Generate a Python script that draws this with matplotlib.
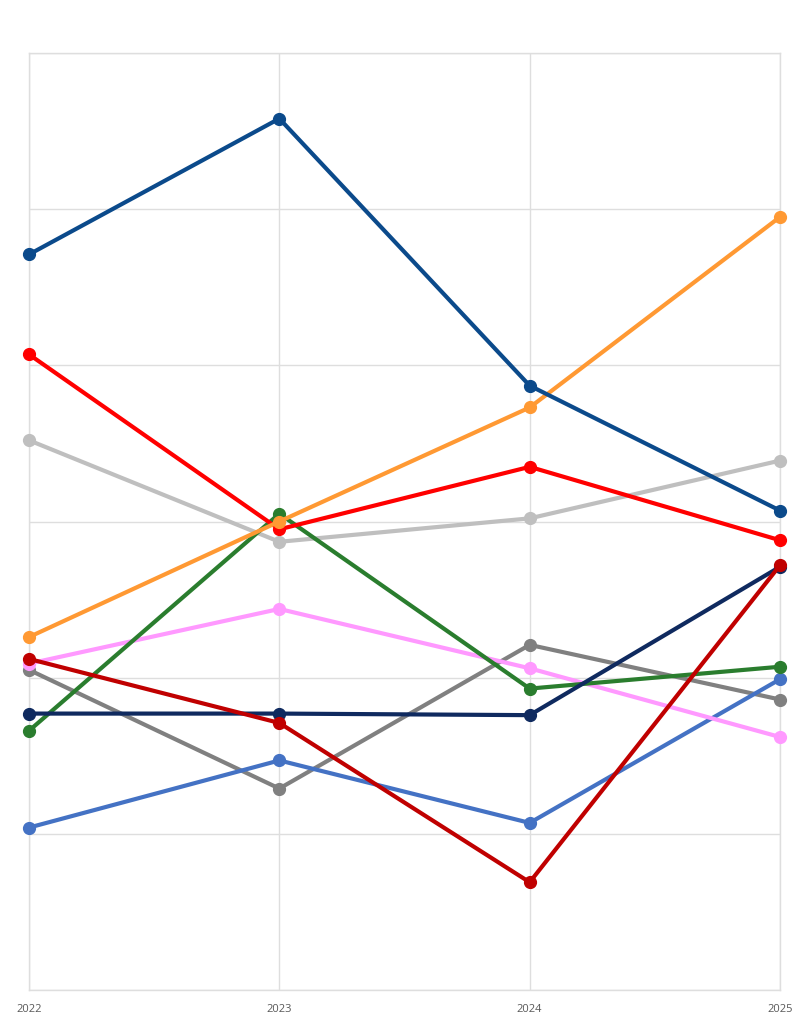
import matplotlib.pyplot as plt

# Data (gridline units)
years = [2022, 2023, 2024, 2025]
light_gray = [3.52, 2.87, 3.02, 3.39]
gray = [2.05, 1.29, 2.21, 1.86]
blue = [1.04, 1.47, 1.07, 1.99]
pink = [2.09, 2.44, 2.06, 1.62]
green = [1.66, 3.05, 1.93, 2.07]
navy = [1.77, 1.77, 1.76, 2.71]
dark_red = [2.12, 1.71, 0.69, 2.72]
red = [4.07, 2.95, 3.35, 2.88]
orange = [2.26, 3.00, 3.73, 4.95]
dark_blue = [4.71, 5.58, 3.87, 3.07]

series = [
    (light_gray, '#bfbfbf'),
    (gray, '#808080'),
    (blue, '#4472c4'),
    (pink, '#ff99ff'),
    (green, '#2a7d2e'),
    (navy, '#0f2a5f'),
    (dark_red, '#c00000'),
    (red, '#ff0000'),
    (orange, '#ff9933'),
    (dark_blue, '#0b4a8b'),
]

fig = plt.figure(figsize=(8.1, 10.24), dpi=100)
ax = fig.add_axes([29 / 810, 34 / 1024, 751 / 810, 937 / 1024])

for vals, col in series:
    ax.plot(years, vals, color=col, lw=3, marker='o', ms=8.5,
            solid_capstyle='round', zorder=3, clip_on=False)

ax.set_xlim(2022, 2025)
ax.set_ylim(0, 6)
ax.set_xticks(years)
ax.set_xticklabels([str(y) for y in years])
ax.set_yticks(range(7))
ax.set_yticklabels([])
ax.grid(True, color='#dedede', lw=1, zorder=0)
ax.tick_params(length=0, labelsize=8, labelcolor='#595959', pad=10)
ax.tick_params(axis='y', left=False)
for s in ax.spines.values():
    s.set_color('#dedede')
    s.set_linewidth(1)
for lbl in ax.get_xticklabels():
    lbl.set_family('Open Sans')

fig.savefig('out.png', dpi=100)
